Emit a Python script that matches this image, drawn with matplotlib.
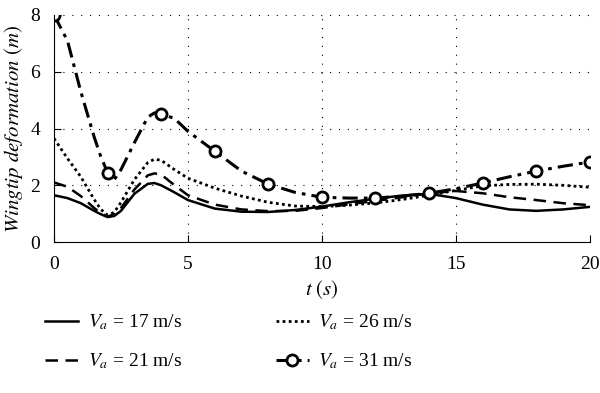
import matplotlib.pyplot as plt

plt.rcParams['font.family'] = 'Liberation Serif'
plt.rcParams['mathtext.fontset'] = 'stix'

# time samples (s)
t = [0, 0.5, 1, 1.5, 1.75, 2, 2.25, 2.5, 3, 3.5, 3.75, 4, 4.5, 5, 6, 7, 8, 9, 10,
     11, 12, 13, 14, 15, 16, 17, 18, 19, 20]

# wingtip deformation (m) for each airspeed
v17 = [1.65, 1.55, 1.37, 1.1, 0.98, 0.88, 0.92, 1.1, 1.7, 2.05, 2.08, 2.0, 1.75, 1.48,
       1.18, 1.07, 1.06, 1.13, 1.25, 1.4, 1.53, 1.64, 1.7, 1.55, 1.32, 1.15, 1.1, 1.15, 1.24]
v21 = [2.1, 1.95, 1.62, 1.2, 1.02, 0.9, 0.98, 1.2, 1.85, 2.35, 2.42, 2.38, 2.0, 1.65,
       1.32, 1.15, 1.09, 1.1, 1.2, 1.33, 1.45, 1.58, 1.72, 1.8, 1.72, 1.58, 1.48, 1.37, 1.3]
v26 = [3.65, 2.95, 2.3, 1.5, 1.15, 0.95, 1.05, 1.4, 2.2, 2.8, 2.92, 2.88, 2.55, 2.25,
       1.9, 1.62, 1.4, 1.27, 1.25, 1.3, 1.38, 1.5, 1.65, 1.82, 1.98, 2.03, 2.04, 2.0, 1.93]
v31 = [8.0, 7.1, 5.3, 3.7, 3.0, 2.45, 2.2, 2.55, 3.5, 4.4, 4.55, 4.52, 4.35, 3.9,
       3.2, 2.5, 2.04, 1.75, 1.58, 1.55, 1.55, 1.62, 1.72, 1.88, 2.08, 2.3, 2.5, 2.67, 2.82]

labels = ['17', '21', '26', '31']

fig = plt.figure(figsize=(6, 3.93), dpi=100)
ax = fig.add_axes([0.09, 0.384, 0.893, 0.578])

ax.plot(t, v17, color='black', lw=1.8, label=r'$V_a$ = ' + labels[0] + ' m/s')
ax.plot(t, v21, color='black', lw=1.8, linestyle=(0, (5, 3)), label=r'$V_a$ = ' + labels[1] + ' m/s')
ax.plot(t, v26, color='black', lw=2.0, linestyle=(0, (1, 1.2)), label=r'$V_a$ = ' + labels[2] + ' m/s')
marks = [i for i, x in enumerate(t) if x % 2 == 0]
ax.plot(t, v31, color='black', lw=2.2, linestyle=(0, (5, 2, 1.2, 2)), marker='o',
        markevery=marks, markersize=8, markerfacecolor='white', markeredgewidth=2,
        label=r'$V_a$ = ' + labels[3] + ' m/s')

ax.set_xlim(0, 20)
ax.set_ylim(0, 8)
ax.set_xticks([0, 5, 10, 15, 20])
ax.set_yticks([0, 2, 4, 6, 8])
ax.grid(True, color='black', linestyle=(0, (1, 7)), linewidth=0.8)
ax.spines['top'].set_visible(False)
ax.spines['right'].set_visible(False)
ax.tick_params(direction='in', labelsize=14, length=5, pad=10)
ax.set_xlabel(r'$t\ (s)$', fontsize=15, labelpad=4)
ax.set_ylabel(r'$Wingtip\ deformation\ (m)$', fontsize=15, labelpad=4)

fig.legend(loc='center left', bbox_to_anchor=(0.046, 0.13), ncol=2, frameon=False,
           fontsize=14, handlelength=1.7, handletextpad=0.5, columnspacing=4.8,
           labelspacing=1.0)

fig.savefig('out.png', dpi=100)
